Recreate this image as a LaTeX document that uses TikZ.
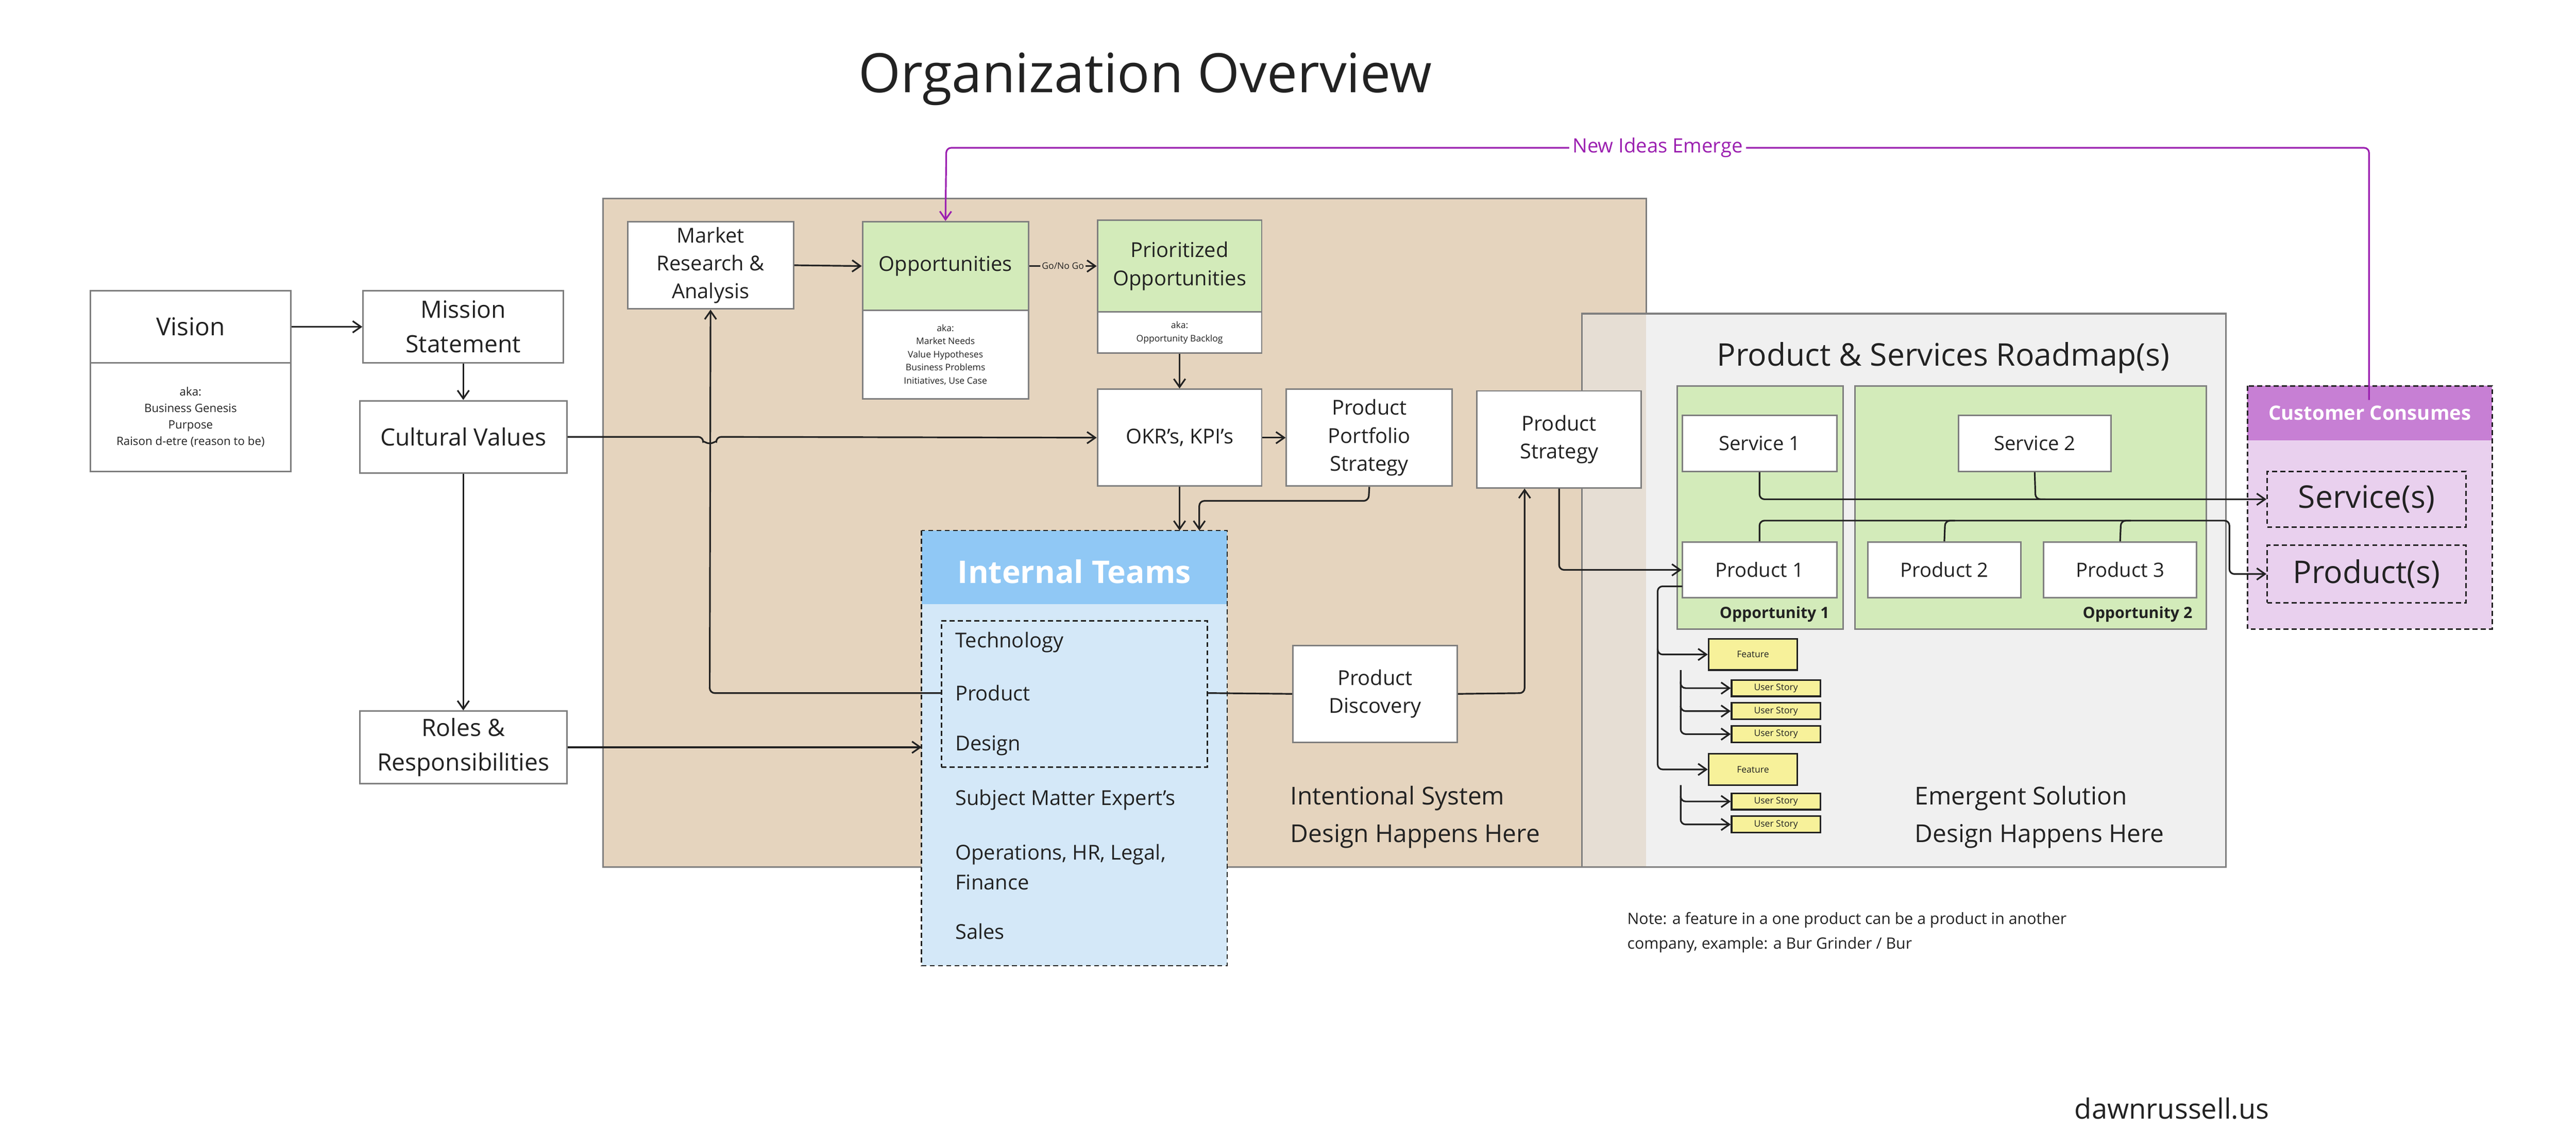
\documentclass[tikz,border=0pt]{standalone}
\usepackage{fontspec}
\setmainfont{Open Sans}
\usetikzlibrary{arrows.meta}
\definecolor{tan}{HTML}{E5D4BE}
\definecolor{lgray}{HTML}{F0F0F0}
\definecolor{ovl}{HTML}{E6DED4}
\definecolor{grn}{HTML}{D3EBBA}
\definecolor{bhead}{HTML}{90C8F5}
\definecolor{bbody}{HTML}{D4E8F8}
\definecolor{phead}{HTML}{C77FD4}
\definecolor{pbody}{HTML}{E9D0EE}
\definecolor{yel}{HTML}{F7F19A}
\definecolor{purp}{HTML}{9B1FB0}
\definecolor{bord}{HTML}{7F7F7F}
\definecolor{txt}{HTML}{222222}
\newcommand{\fs}[2]{\fontsize{#1}{#2}\selectfont}
\begin{document}
\begin{tikzpicture}[x=1pt,y=-1pt,
  box/.style={draw=bord,line width=0.9pt,fill=white,align=center,text=txt,font=\fs{13}{19}},
  cn/.style={draw=txt,line width=1pt,rounded corners=3pt,-{Straight Barb[length=5pt,width=7pt]}},
  ln/.style={draw=txt,line width=1pt,rounded corners=3pt},
  yb/.style={draw=txt,line width=1pt,fill=yel,font=\fs{5.5}{6},text=txt},
  dsh/.style={draw=txt,line width=0.9pt,dash pattern=on 3pt off 2pt}]
\useasboundingbox (0,0) rectangle (1568,699);
\fill[white] (0,0) rectangle (1568,699);
\node[font=\fs{33}{38},text=txt] (title) at (697,48) {Organization Overview};
% regions
\draw[draw=bord,fill=tan,line width=1pt] (367,121) rectangle (1002,528);
\draw[draw=bord,fill=lgray,line width=1pt] (963,191) rectangle (1355,528);
\fill[ovl] (963.5,191.5) rectangle (1002,527.5);
\draw[draw=bord,line width=1pt] (963,191) rectangle (1355,528);
\node[font=\fs{19}{22},text=txt] (rmt) at (1183,218) {Product \& Services Roadmap(s)};
\node[anchor=north west,align=left,font=\fs{15}{23},text=txt] (isd) at (782,475) {Intentional System\\Design Happens Here};
\node[anchor=north west,align=left,font=\fs{15}{23},text=txt] (esd) at (1162,475) {Emergent Solution\\Design Happens Here};
% left column
\node[box,minimum width=122,minimum height=44,font=\fs{15}{19}] (vis) at (116,199) {Vision};
\node[box,minimum width=122,minimum height=66,font=\fs{7}{10}] (visaka) at (116,254) {aka:\\Business Genesis\\Purpose\\Raison d-etre (reason to be)};
\node[box,minimum width=122,minimum height=44,font=\fs{14.5}{21}] (mis) at (282,199) {Mission\\Statement};
\node[box,minimum width=126,minimum height=44,font=\fs{14.5}{19}] (cul) at (282,266) {Cultural Values};
\node[box,minimum width=126,minimum height=44,font=\fs{14.5}{21}] (rol) at (282,455) {Roles \&\\Responsibilities};
% top row
\node[box,minimum width=101,minimum height=53,font=\fs{12.5}{17}] (mra) at (432.5,161.5) {Market\\Research \&\\Analysis};
\node[box,fill=grn,minimum width=101,minimum height=54,font=\fs{12.5}{17}] (opp) at (575.5,162) {Opportunities};
\node[box,minimum width=101,minimum height=54,font=\fs{5.5}{8}] (oppaka) at (575.5,216) {aka:\\Market Needs\\Value Hypotheses\\Business Problems\\Initiatives, Use Case};
\node[box,fill=grn,minimum width=100,minimum height=56,font=\fs{12.5}{17}] (pri) at (718,162) {Prioritized\\Opportunities};
\node[box,minimum width=100,minimum height=25,font=\fs{5.5}{8}] (priaka) at (718,202.5) {aka:\\Opportunity Backlog};
\node[box,minimum width=100,minimum height=59,font=\fs{12.5}{17}] (okr) at (718,266.5) {OKR's, KPI's};
\node[box,minimum width=101,minimum height=59,font=\fs{12.5}{17}] (pps) at (833.5,266.5) {Product\\Portfolio\\Strategy};
\node[box,minimum width=100,minimum height=59,font=\fs{12.5}{17}] (pst) at (949,267.5) {Product\\Strategy};
\node[box,minimum width=100,minimum height=59,font=\fs{12.5}{17}] (pdi) at (837,422.5) {Product\\Discovery};
% internal teams
\fill[bbody] (561,323) rectangle (747,588);
\fill[bhead] (561,323) rectangle (747,368);
\draw[dsh] (561,323) rectangle (747,588);
\node[font=\bfseries\fs{19}{22},text=white] (itt) at (654,348) {Internal Teams};
\node[dsh,minimum width=162,minimum height=89,inner sep=0] (inner) at (654,422.5) {};
\begin{scope}[every node/.style={anchor=west,font=\fs{12.5}{18},text=txt,align=left}]
\node (tech) at (578,391) {Technology};
\node (prod) at (578,422) {Product};
\node (des) at (578,454) {Design};
\node (sme) at (578,487) {Subject Matter Expert's};
\node (ops) at (578,528) {Operations, HR, Legal,\\Finance};
\node (sal) at (578,567) {Sales};
\end{scope}
% roadmap
\draw[draw=bord,fill=grn,line width=1pt] (1021,235) rectangle (1122,383);
\draw[draw=bord,fill=grn,line width=1pt] (1129,235) rectangle (1343,383);
\node[anchor=east,font=\bfseries\fs{9.5}{11},text=txt] (op1) at (1117,374) {Opportunity 1};
\node[anchor=east,font=\bfseries\fs{9.5}{11},text=txt] (op2) at (1338,374) {Opportunity 2};
\node[box,minimum width=94,minimum height=34,font=\fs{12}{14}] (s1) at (1071,270) {Service 1};
\node[box,minimum width=93,minimum height=34,font=\fs{12}{14}] (s2) at (1238.5,270) {Service 2};
\node[box,minimum width=94,minimum height=34,font=\fs{12}{14}] (p1) at (1071,347) {Product 1};
\node[box,minimum width=93,minimum height=34,font=\fs{12}{14}] (p2) at (1183.5,347) {Product 2};
\node[box,minimum width=93,minimum height=34,font=\fs{12}{14}] (p3) at (1290.5,347) {Product 3};
% customer
\fill[pbody] (1368,235) rectangle (1517,383);
\fill[phead] (1368,235) rectangle (1517,268);
\draw[dsh] (1368,235) rectangle (1517,383);
\node[font=\bfseries\fs{12}{14},text=white] (cc) at (1442.5,251.5) {Customer Consumes};
\node[dsh,minimum width=121,minimum height=34,inner sep=0,font=\fs{19}{20},text=txt] (ss) at (1440.5,304) {Service(s)};
\node[dsh,minimum width=121,minimum height=35,inner sep=0,font=\fs{19}{20},text=txt] (ps) at (1440.5,349.5) {Product(s)};
% features
\node[yb,minimum width=54,minimum height=19,inner sep=0] (f1) at (1067,398.5) {Feature};
\node[yb,minimum width=54,minimum height=10,inner sep=0] (u1) at (1081,419) {User Story};
\node[yb,minimum width=54,minimum height=10,inner sep=0] (u2) at (1081,433) {User Story};
\node[yb,minimum width=54,minimum height=10,inner sep=0] (u3) at (1081,447) {User Story};
\node[yb,minimum width=54,minimum height=19,inner sep=0] (f2) at (1067,468.5) {Feature};
\node[yb,minimum width=54,minimum height=10,inner sep=0] (u4) at (1081,488) {User Story};
\node[yb,minimum width=54,minimum height=10,inner sep=0] (u5) at (1081,502) {User Story};
% notes
\node[anchor=north west,align=left,font=\fs{9.5}{15},text=txt] (note) at (987,552) {Note: a feature in a one product can be a product in another\\company, example: a Bur Grinder / Bur};
\node[font=\fs{17}{20},text=txt] (dr) at (1322,675) {dawnrussell.us};
% connectors
\draw[cn] (vis.east) -- (mis.west);
\draw[cn] (mis.south) -- (cul.north);
\draw[cn] (cul.south) -- (rol.north);
\draw[cn] (cul.east) -- (428,266) arc[start angle=180,end angle=0,radius=4] -- (okr.west);
\draw[cn] (rol.east) -- (561,455);
\draw[cn] (inner.west |- prod) -- (432,422) -- (mra.south);
\draw[cn] (mra.east) -- (opp.west);
\draw[cn] (opp.east) -- node[fill=tan,inner sep=1pt,font=\fs{5.5}{6},text=txt] (gng) {Go/No Go} (pri.west);
\draw[cn] (priaka.south) -- (okr.north);
\draw[cn] (okr.east) -- (pps.west);
\draw[cn] (okr.south) -- (718,323);
\draw[cn] (pps.south) -- (833,305) -- (730,305) -- (730,323);
\draw[ln] (inner.east |- prod) -- (pdi.west);
\draw[cn] (pdi.east) -- (928,422) -- (pst.south -| 928,0);
\draw[cn] (pst.south) -- (949,347) -- (p1.west);
\draw[cn] (s1.south) -- (1071,304) -- (ss.west);
\draw[ln] (s2.south) -- (1239,304) -- (1245,304);
\draw[cn] (p1.north) -- (1071,317) -- (1357,317) -- (1357,349.5) -- (ps.west);
\draw[ln] (p2.north) -- (1184,317) -- (1190,317);
\draw[ln] (p3.north) -- (1291,317) -- (1297,317);
\draw[cn] (1024,357) -- (1009,357) -- (1009,398.5) -- (f1.west);
\draw[cn] (1009,395) -- (1009,468.5) -- (f2.west);
\draw[cn] (1023,408) -- (1023,419) -- (u1.west);
\draw[cn] (1023,415) -- (1023,433) -- (u2.west);
\draw[cn] (1023,430) -- (1023,447) -- (u3.west);
\draw[cn] (1023,478) -- (1023,488) -- (u4.west);
\draw[cn] (1023,485) -- (1023,502) -- (u5.west);
\draw[draw=purp,line width=1pt,rounded corners=3pt,-{Straight Barb[length=5pt,width=7pt]}] (cc.north -| 1442,0) -- (1442,90) -- node[fill=white,inner sep=2pt,font=\fs{12}{14},text=purp] (nie) {New Ideas Emerge} (576,90) -- (opp.north);
\end{tikzpicture}
\end{document}
